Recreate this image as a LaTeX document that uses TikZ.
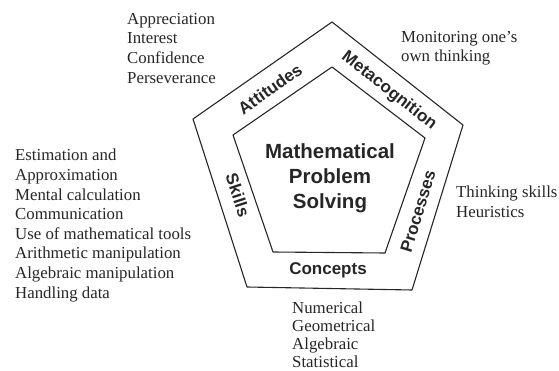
\documentclass[tikz,border=0pt]{standalone}
\usepackage{fontspec}
\setmainfont{Liberation Serif}
\newfontfamily\labelfont{Liberation Sans}
\begin{document}
\begin{tikzpicture}[x=1pt,y=-1pt,
  listtext/.style={anchor=north west, inner sep=0pt, align=left, font=\fontsize{16.8}{19.6}\selectfont, text=black!85},
  ringlabel/.style={inner sep=0pt, font=\labelfont\bfseries\fontsize{17}{20}\selectfont, text=black!85},
  centertext/.style={inner sep=0pt, align=center, font=\labelfont\bfseries\fontsize{20.5}{25}\selectfont, text=black!85},
  pent/.style={draw=black!85, line width=1.1pt, line join=round}]
\useasboundingbox (0,0) rectangle (559,371);
% outer pentagon
\coordinate (oT) at (332,22);
\coordinate (oL) at (193,119);
\coordinate (oR) at (463,125);
\coordinate (oBL) at (247,287);
\coordinate (oBR) at (412,290);
% inner pentagon
\coordinate (iT) at (332,67);
\coordinate (iL) at (233,135);
\coordinate (iR) at (425,138);
\coordinate (iBL) at (273,252);
\coordinate (iBR) at (385,253);
\draw[pent] (oT) -- (oR) -- (oBR) -- (oBL) -- (oL) -- cycle;
\draw[pent] (iT) -- (iR) -- (iBR) -- (iBL) -- (iL) -- cycle;
% ring labels
\node[ringlabel, rotate=35] (att) at (270,89) {Attitudes};
\node[ringlabel, rotate=-38] (meta) at (389,91) {Metacognition};
\node[ringlabel, rotate=-72] (skills) at (238,195) {Skills};
\node[ringlabel, rotate=73] (proc) at (418,211) {Processes};
\node[ringlabel] (conc) at (328,270) {Concepts};
\node[centertext] (mps) at (330,178) {Mathematical\\Problem\\Solving};
% lists
\node[listtext] (attlist) at (127,13) {Appreciation\\Interest\\Confidence\\Perseverance};
\node[listtext] (metalist) at (401,31) {Monitoring one's\\own thinking};
\node[listtext] (skilllist) at (15,149) {Estimation and\\Approximation\\Mental calculation\\Communication\\Use of mathematical tools\\Arithmetic manipulation\\Algebraic manipulation\\Handling data};
\node[listtext] (proclist) at (456,186) {Thinking skills\\Heuristics};
\node[listtext, font=\fontsize{16.8}{18}\selectfont] (conclist) at (292,302) {Numerical\\Geometrical\\Algebraic\\Statistical};
\end{tikzpicture}
\end{document}
